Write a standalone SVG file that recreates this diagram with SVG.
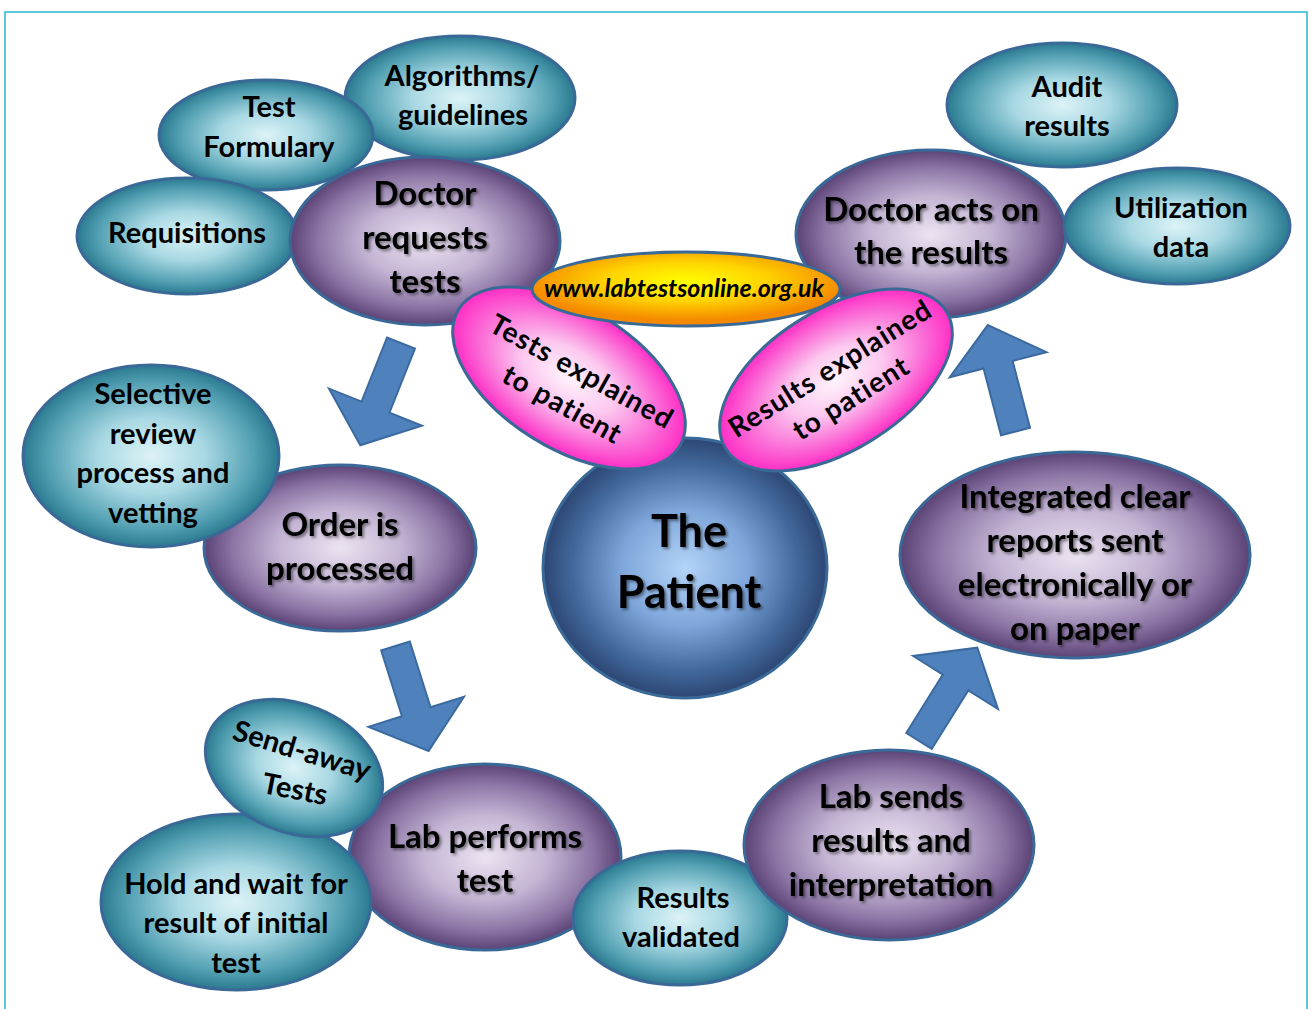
<svg xmlns="http://www.w3.org/2000/svg" width="1312" height="1009" viewBox="0 0 1312 1009">
<defs>
  <radialGradient id="gT" cx="50%" cy="50%" r="50%">
    <stop offset="0" stop-color="#dcf3f7"/>
    <stop offset="0.42" stop-color="#a8d8e3"/>
    <stop offset="0.8" stop-color="#54a1b3"/>
    <stop offset="1" stop-color="#2a7a90"/>
  </radialGradient>
  <radialGradient id="gP" cx="50%" cy="50%" r="50%">
    <stop offset="0" stop-color="#ebe3f1"/>
    <stop offset="0.45" stop-color="#c4b5d4"/>
    <stop offset="0.8" stop-color="#8a73a3"/>
    <stop offset="1" stop-color="#5a4275"/>
  </radialGradient>
  <radialGradient id="gB" cx="50%" cy="50%" r="50%">
    <stop offset="0" stop-color="#b4d4f8"/>
    <stop offset="0.45" stop-color="#7ea6da"/>
    <stop offset="0.8" stop-color="#41679a"/>
    <stop offset="1" stop-color="#2c4673"/>
  </radialGradient>
  <radialGradient id="gK" cx="50%" cy="50%" r="50%">
    <stop offset="0" stop-color="#fff4fc"/>
    <stop offset="0.4" stop-color="#fcc8ef"/>
    <stop offset="0.8" stop-color="#fb62d4"/>
    <stop offset="1" stop-color="#ff2ec5"/>
  </radialGradient>
  <radialGradient id="gO" cx="50%" cy="40%" r="52%">
    <stop offset="0" stop-color="#ffff00"/>
    <stop offset="0.5" stop-color="#ffd400"/>
    <stop offset="1" stop-color="#f58a00"/>
  </radialGradient>
  <filter id="ts" x="-10%" y="-20%" width="120%" height="150%">
    <feDropShadow dx="2" dy="2" stdDeviation="1.6" flood-color="#000" flood-opacity="0.45"/>
  </filter>
  <path id="arrowShape" d="M0,-15 L69,-15 L69,-50 L110,0 L69,50 L69,15 L0,15 Z"/>
</defs>
<style>
  .ell { stroke: #3a6997; stroke-width: 3; }
  .teal { fill: url(#gT); }
  .purple { fill: url(#gP); }
  .blue { fill: url(#gB); }
  .pink { fill: url(#gK); }
  .orange { fill: url(#gO); }
  text { font-family: Lato, "Liberation Sans", sans-serif; font-weight: bold; fill: #000; text-anchor: middle; }
  .tt { font-size: 29px; }
  .tp { font-size: 33px; filter: url(#ts); }
  .tb { font-size: 45px; filter: url(#ts); }
  .tk { font-size: 28px; letter-spacing: 1px; }
  .tu { font-size: 25px; font-style: italic; }
  .arrow { fill: #4f81bd; stroke: #3b6aa0; stroke-width: 2; stroke-linejoin: miter; }
</style>
<rect x="5" y="12" width="1302" height="1020" fill="#fff" stroke="#5cc6dc" stroke-width="2"/>

<g id="n_algorithms">
  <ellipse class="ell teal" cx="460" cy="98" rx="115" ry="62"/>
  <text class="tt" x="462" y="86">Algorithms/</text>
  <text class="tt" x="463" y="125">guidelines</text>
</g>
<g id="n_formulary">
  <ellipse class="ell teal" cx="266" cy="135" rx="107" ry="55"/>
  <text class="tt" x="269" y="117">Test</text>
  <text class="tt" x="269" y="157">Formulary</text>
</g>
<g id="n_requisitions">
  <ellipse class="ell teal" cx="187" cy="236" rx="110" ry="58"/>
  <text class="tt" x="187" y="243">Requisitions</text>
</g>
<g id="n_doctor_requests">
  <ellipse class="ell purple" cx="425" cy="241" rx="135" ry="84"/>
  <text class="tp" x="425" y="205">Doctor</text>
  <text class="tp" x="425" y="249">requests</text>
  <text class="tp" x="425" y="293">tests</text>
</g>

<g id="n_doctor_acts">
  <ellipse class="ell purple" cx="931" cy="234" rx="135" ry="84"/>
  <text class="tp" x="931" y="221">Doctor acts on</text>
  <text class="tp" x="931" y="264">the results</text>
</g>
<g id="n_audit">
  <ellipse class="ell teal" cx="1062" cy="105" rx="115" ry="62"/>
  <text class="tt" x="1067" y="97">Audit</text>
  <text class="tt" x="1067" y="136">results</text>
</g>
<g id="n_utilization">
  <ellipse class="ell teal" cx="1177" cy="226" rx="113" ry="58"/>
  <text class="tt" x="1181" y="218">Utilization</text>
  <text class="tt" x="1181" y="257">data</text>
</g>

<g id="n_order">
  <ellipse class="ell purple" cx="340" cy="548" rx="136" ry="83"/>
  <text class="tp" x="340" y="536">Order is</text>
  <text class="tp" x="340" y="580">processed</text>
</g>
<g id="n_selective">
  <ellipse class="ell teal" cx="151" cy="456" rx="128" ry="91"/>
  <text class="tt" x="153" y="404">Selective</text>
  <text class="tt" x="153" y="444">review</text>
  <text class="tt" x="153" y="483">process and</text>
  <text class="tt" x="153" y="523">vetting</text>
</g>

<g id="n_lab_performs">
  <ellipse class="ell purple" cx="485" cy="857" rx="136" ry="93"/>
  <text class="tp" x="485" y="848">Lab performs</text>
  <text class="tp" x="485" y="892">test</text>
</g>
<g id="n_hold">
  <ellipse class="ell teal" cx="236" cy="902" rx="135" ry="88"/>
  <text class="tt" x="236" y="894">Hold and wait for</text>
  <text class="tt" x="236" y="933">result of initial</text>
  <text class="tt" x="236" y="973">test</text>
</g>
<g id="n_sendaway">
  <ellipse class="ell teal" cx="294" cy="768" rx="92" ry="64" transform="rotate(22 294 768)"/>
  <text class="tt" font-size="27" transform="translate(299 760) rotate(17)" x="0" y="0">Send-away</text>
  <text class="tt" font-size="27" transform="translate(293 799) rotate(11)" x="0" y="0">Tests</text>
</g>

<g id="n_validated">
  <ellipse class="ell teal" cx="680" cy="918" rx="107" ry="67"/>
  <text class="tt" x="683" y="908">Results</text>
  <text class="tt" x="681" y="947">validated</text>
</g>
<g id="n_lab_sends">
  <ellipse class="ell purple" cx="889" cy="845" rx="145" ry="95"/>
  <text class="tp" x="891" y="808">Lab sends</text>
  <text class="tp" x="891" y="852">results and</text>
  <text class="tp" x="891" y="896">interpretation</text>
</g>
<g id="n_integrated">
  <ellipse class="ell purple" cx="1075" cy="555" rx="175" ry="103"/>
  <text class="tp" x="1075" y="508">Integrated clear</text>
  <text class="tp" x="1075" y="552">reports sent</text>
  <text class="tp" x="1075" y="596">electronically or</text>
  <text class="tp" x="1075" y="640">on paper</text>
</g>

<g id="n_patient">
  <ellipse class="ell blue" cx="685" cy="568" rx="142" ry="130"/>
  <text class="tb" x="689" y="547">The</text>
  <text class="tb" x="689" y="608">Patient</text>
</g>
<g id="n_tests_explained">
  <ellipse class="ell pink" cx="569" cy="378" rx="130" ry="70" transform="rotate(32 569 378)"/>
  <g transform="translate(569 378) rotate(29)">
    <text class="tk" x="8" y="-2">Tests explained</text>
    <text class="tk" x="7" y="36">to patient</text>
  </g>
</g>
<g id="n_results_explained">
  <ellipse class="ell pink" cx="836" cy="380" rx="130" ry="70" transform="rotate(-32 836 380)"/>
  <g transform="translate(836 380) rotate(-32)">
    <text class="tk" x="1" y="-3">Results explained</text>
    <text class="tk" x="3" y="33">to patient</text>
  </g>
</g>
<g id="n_url">
  <ellipse class="ell orange" cx="686" cy="289" rx="154" ry="37"/>
  <text class="tu" x="684" y="297">www.labtestsonline.org.uk</text>
</g>

<g id="connectors">
  <use href="#arrowShape" class="arrow" transform="translate(401 343) rotate(111.7)"/>
  <use href="#arrowShape" class="arrow" transform="translate(395.5 646) rotate(72.5)"/>
  <use href="#arrowShape" class="arrow" transform="translate(919 741) rotate(-58)"/>
  <use href="#arrowShape" class="arrow" transform="translate(1015.5 431.5) rotate(-104.6)"/>
</g>
</svg>
